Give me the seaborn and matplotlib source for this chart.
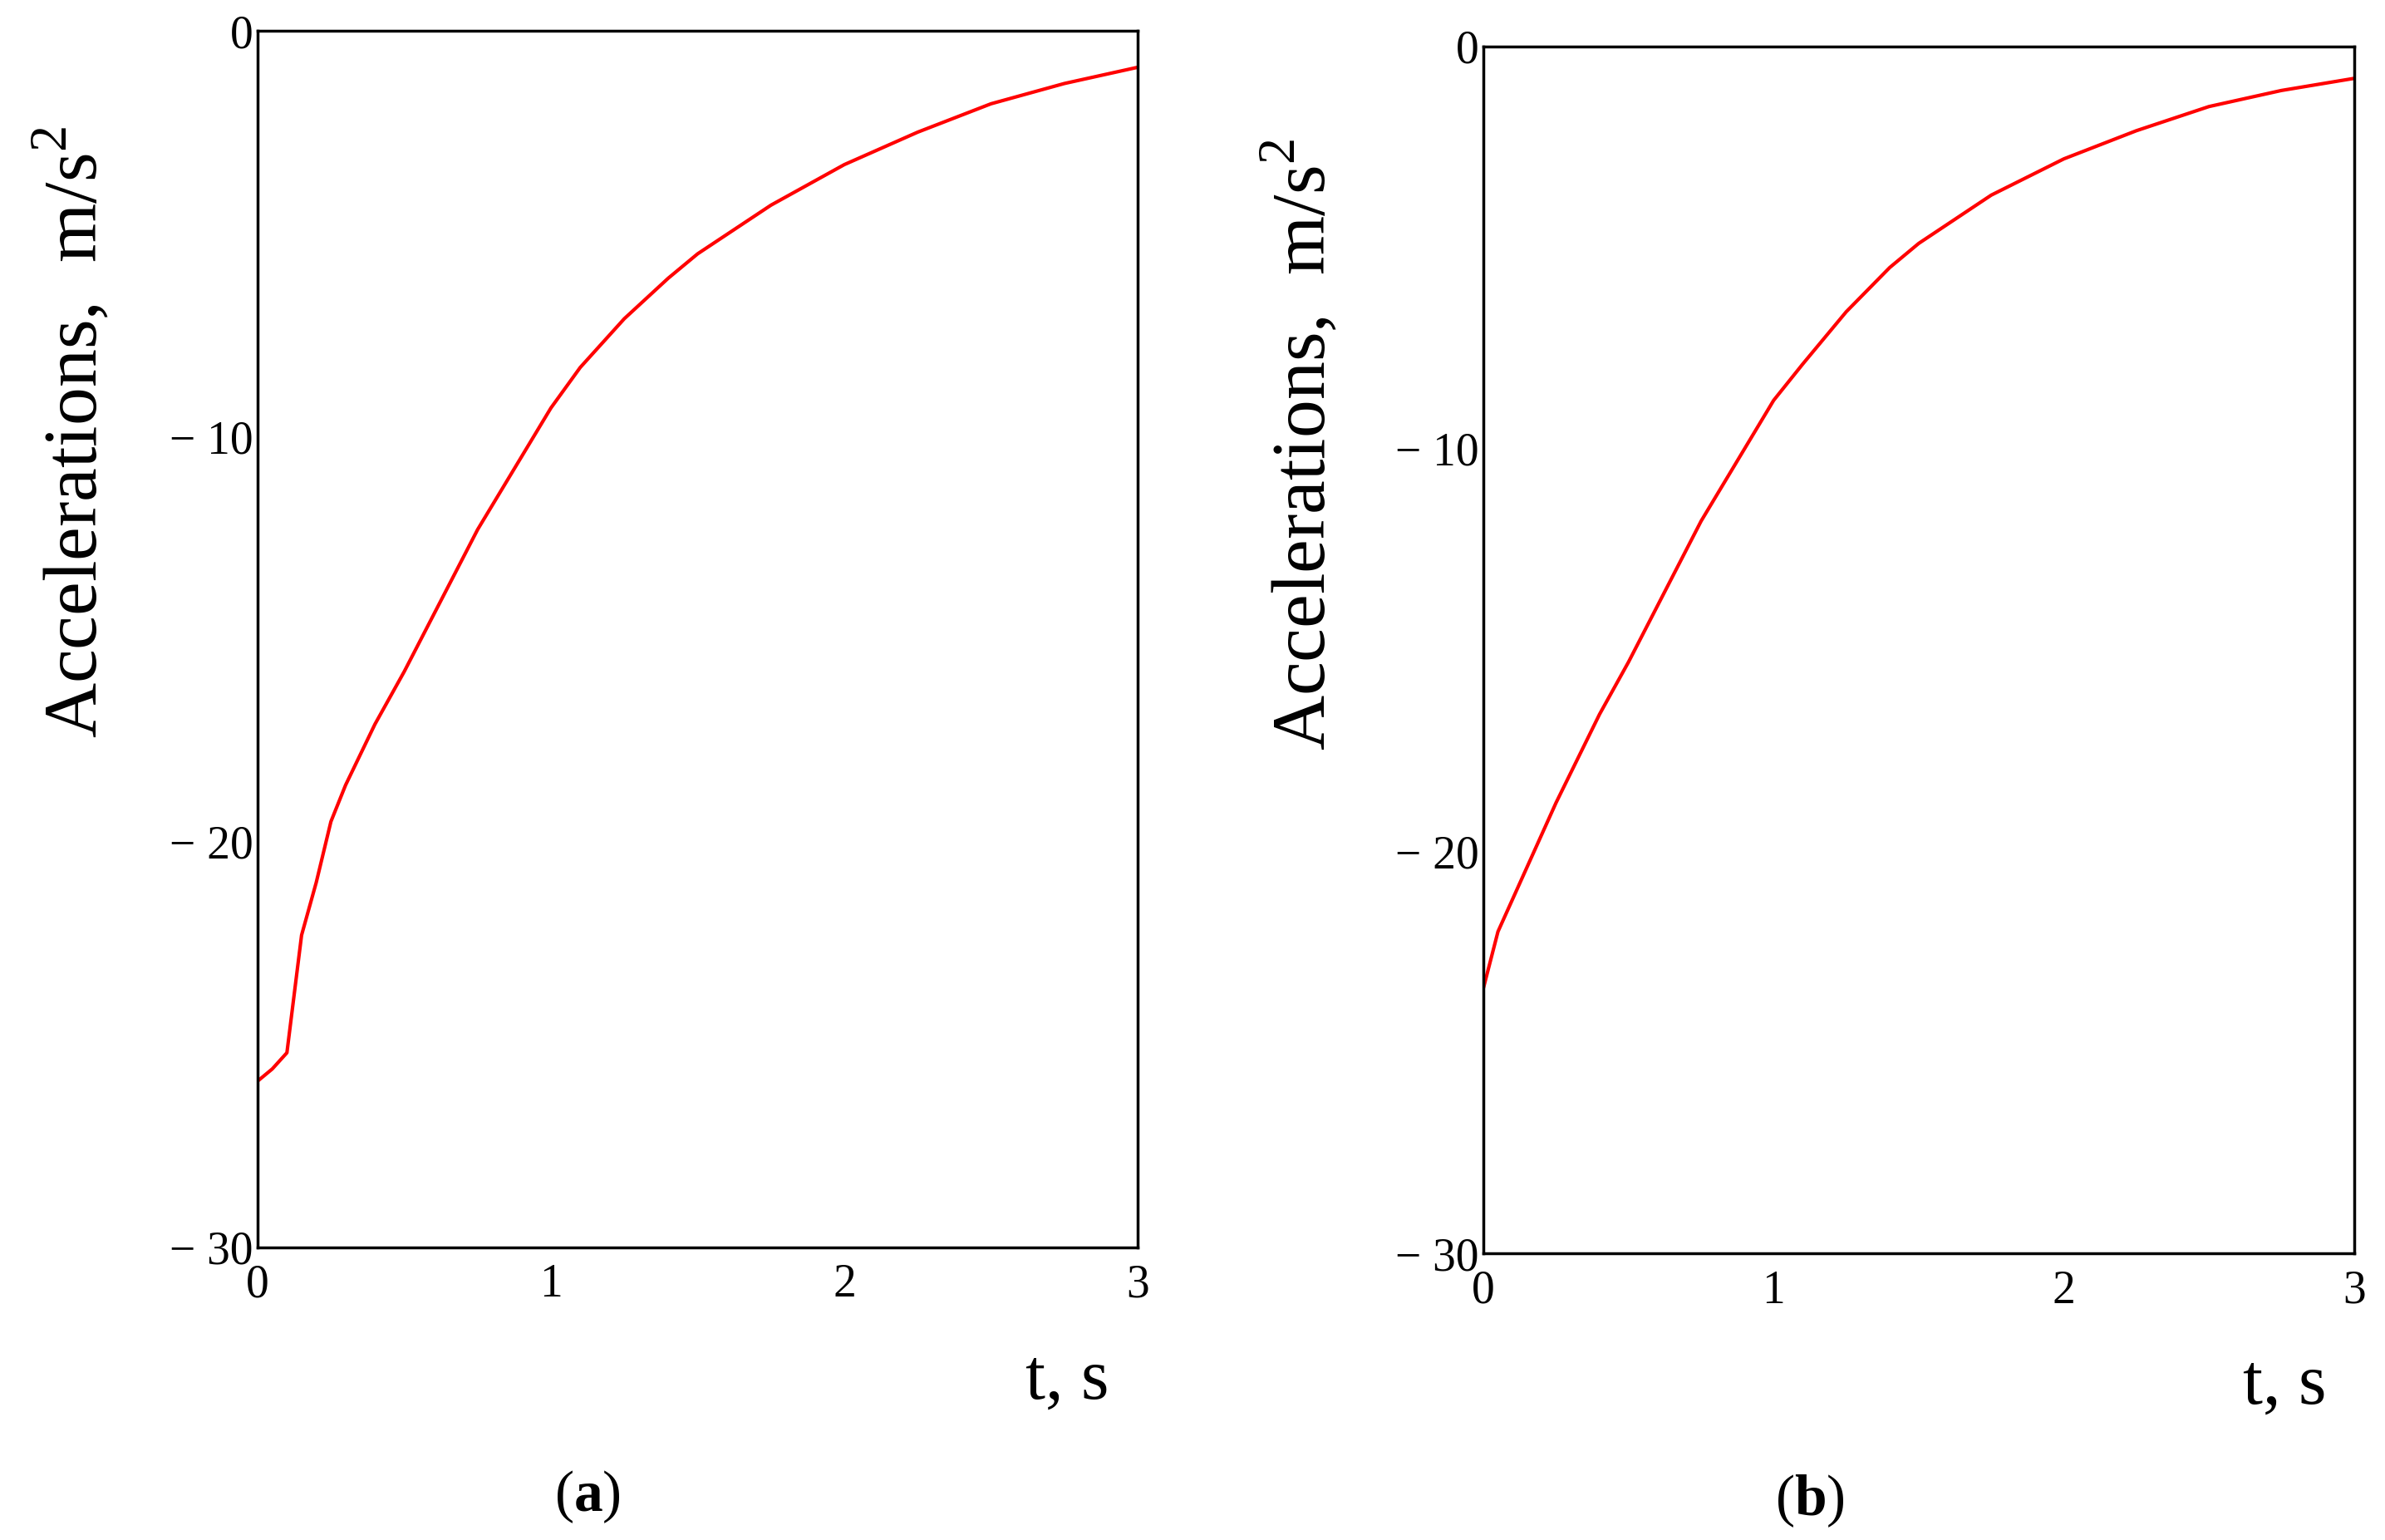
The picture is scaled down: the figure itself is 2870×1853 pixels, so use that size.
import matplotlib
matplotlib.use("Agg")
import matplotlib.pyplot as plt
import seaborn as sns
import pandas as pd

t_a = [0, 0.05, 0.1, 0.15, 0.2, 0.25, 0.3, 0.4, 0.5, 0.6, 0.75, 0.9, 1.0, 1.1, 1.25, 1.4, 1.5, 1.75, 2.0, 2.25, 2.5, 2.75, 3.0]
acc_a = [-25.9, -25.6, -25.2, -22.3, -21.0, -19.5, -18.6, -17.1, -15.8, -14.4, -12.3, -10.5, -9.3, -8.3, -7.1, -6.1, -5.5, -4.3, -3.3, -2.5, -1.8, -1.3, -0.9]
t_b = [0, 0.05, 0.1, 0.25, 0.4, 0.5, 0.6, 0.75, 0.9, 1.0, 1.1, 1.25, 1.4, 1.5, 1.75, 2.0, 2.25, 2.5, 2.75, 3.0]
acc_b = [-23.4, -22.0, -21.2, -18.8, -16.6, -15.3, -13.9, -11.8, -10.0, -8.8, -7.9, -6.6, -5.5, -4.9, -3.7, -2.8, -2.1, -1.5, -1.1, -0.8]
yticks = [0, -10, -20, -30]
yticklabels = ["0", "\u2212 10", "\u2212 20", "\u2212 30"]
xticks = [0, 1, 2, 3]

sns.set_theme(style="white")
plt.rcParams['font.family'] = ['Liberation Serif', 'DejaVu Serif']
plt.rcParams['mathtext.fontset'] = 'custom'
plt.rcParams['mathtext.rm'] = 'Liberation Serif'
plt.rcParams['mathtext.bf'] = 'Liberation Serif:bold'
plt.rcParams['text.color'] = 'black'
plt.rcParams['xtick.color'] = 'black'
plt.rcParams['ytick.color'] = 'black'
fig = plt.figure(figsize=(28.7, 18.53), dpi=100)
panels = [
    ([0.108, 0.190, 0.369, 0.790], t_a, acc_a, "a"),
    ([0.622, 0.186, 0.365, 0.784], t_b, acc_b, "b"),
]
for rect, t, a, lab in panels:
    ax = fig.add_axes(rect)
    df = pd.DataFrame({"t": t, "a": a})
    sns.lineplot(data=df, x="t", y="a", ax=ax, color="red", linewidth=3)
    ax.set_xlim(0, 3); ax.set_ylim(-30, 0)
    ax.set_yticks(yticks); ax.set_yticklabels(yticklabels, fontsize=40)
    ax.set_xticks(xticks); ax.set_xticklabels([str(x) for x in xticks], fontsize=40)
    ax.tick_params(axis="y", length=0, pad=4)
    ax.tick_params(axis="x", length=0, pad=14)
    for s in ax.spines.values():
        s.set_color("black"); s.set_linewidth(2.5)
    ax.set_xlabel(""); ax.set_ylabel("")
    ax.text(-0.21, 0.67, "Accelerations,  m/s$^2$", transform=ax.transAxes, rotation=90,
            fontsize=66, ha="center", va="center")
    ax.text(0.92, -0.11, "t, s", transform=ax.transAxes, fontsize=62, ha="center", va="center")
    ax.text(0.375, -0.205, "($\\mathbf{%s}$)" % lab, transform=ax.transAxes, fontsize=50,
            ha="center", va="center")
fig.savefig("out.png", dpi=100)
